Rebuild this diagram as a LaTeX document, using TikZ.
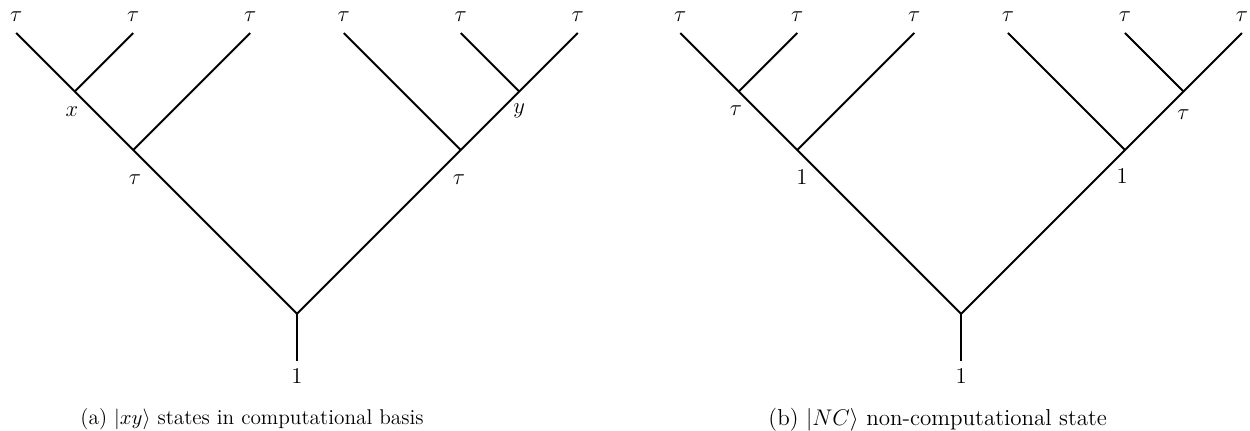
\documentclass[tikz,border=0pt]{standalone}
\usetikzlibrary{calc}
\begin{document}
\begin{tikzpicture}[x=24.8pt,y=24.8pt,
  edge/.style={line width=1.05pt},
  lab/.style={inner sep=0pt,font=\fontsize{12}{14}\selectfont},
  captext/.style={inner sep=0pt,font=\fontsize{11.3}{13.5}\selectfont}]
\useasboundingbox (-6.346,-2.483) rectangle (20.363,6.705);
% ---------- tree (a) ----------
\begin{scope}
\coordinate (aL1) at (-6,6);
\coordinate (aL2) at (-3.5,6);
\coordinate (aL3) at (-1,6);
\coordinate (aL4) at (1,6);
\coordinate (aL5) at (3.5,6);
\coordinate (aL6) at (6,6);
\coordinate (ax) at (-4.75,4.75);
\coordinate (at1) at (-3.5,3.5);
\coordinate (at2) at (3.5,3.5);
\coordinate (ay) at (4.75,4.75);
\coordinate (aR) at (0,0);
\coordinate (aB) at (0,-1);
\draw[edge] (aL1) -- (aR) -- (aL6);
\draw[edge] (aR) -- (aB);
\draw[edge] (aL2) -- (ax);
\draw[edge] (aL3) -- (at1);
\draw[edge] (aL4) -- (at2);
\draw[edge] (aL5) -- (ay);
\foreach \i in {1,...,6}{\node[lab] (atau\i) at ($(aL\i)+(0,0.34)$) {$\tau$};}
\node[lab] (axl) at ($(ax)+(-0.06,-0.42)$) {$x$};
\node[lab] (ayl) at ($(ay)+(0,-0.42)$) {$y$};
\node[lab] (at1l) at ($(at1)+(0.04,-0.64)$) {$\tau$};
\node[lab] (at2l) at ($(at2)+(-0.04,-0.64)$) {$\tau$};
\node[lab] (aBl) at ($(aB)+(0,-0.33)$) {$1$};
\node[captext] (acap) at (-0.96,-2.26) {(a) $|xy\rangle$ states in computational basis};
\end{scope}
% ---------- tree (b) ----------
\begin{scope}[shift={(14.19,0)}]
\coordinate (bL1) at (-6,6);
\coordinate (bL2) at (-3.5,6);
\coordinate (bL3) at (-1,6);
\coordinate (bL4) at (1,6);
\coordinate (bL5) at (3.5,6);
\coordinate (bL6) at (6,6);
\coordinate (bx) at (-4.75,4.75);
\coordinate (bt1) at (-3.5,3.5);
\coordinate (bt2) at (3.5,3.5);
\coordinate (by) at (4.75,4.75);
\coordinate (bR) at (0,0);
\coordinate (bB) at (0,-1);
\draw[edge] (bL1) -- (bR) -- (bL6);
\draw[edge] (bR) -- (bB);
\draw[edge] (bL2) -- (bx);
\draw[edge] (bL3) -- (bt1);
\draw[edge] (bL4) -- (bt2);
\draw[edge] (bL5) -- (by);
\foreach \i in {1,...,6}{\node[lab] (btau\i) at ($(bL\i)+(0,0.34)$) {$\tau$};}
\node[lab] (bxl) at ($(bx)+(-0.06,-0.41)$) {$\tau$};
\node[lab] (byl) at ($(by)+(0,-0.49)$) {$\tau$};
\node[lab] (bt1l) at ($(bt1)+(0.1,-0.58)$) {$1$};
\node[lab] (bt2l) at ($(bt2)+(-0.06,-0.56)$) {$1$};
\node[lab] (bBl) at ($(bB)+(0,-0.33)$) {$1$};
\node[captext,font=\fontsize{12.2}{14.5}\selectfont] (bcap) at (-0.5,-2.26) {(b) $|NC\rangle$ non-computational state};
\end{scope}
\end{tikzpicture}
\end{document}
